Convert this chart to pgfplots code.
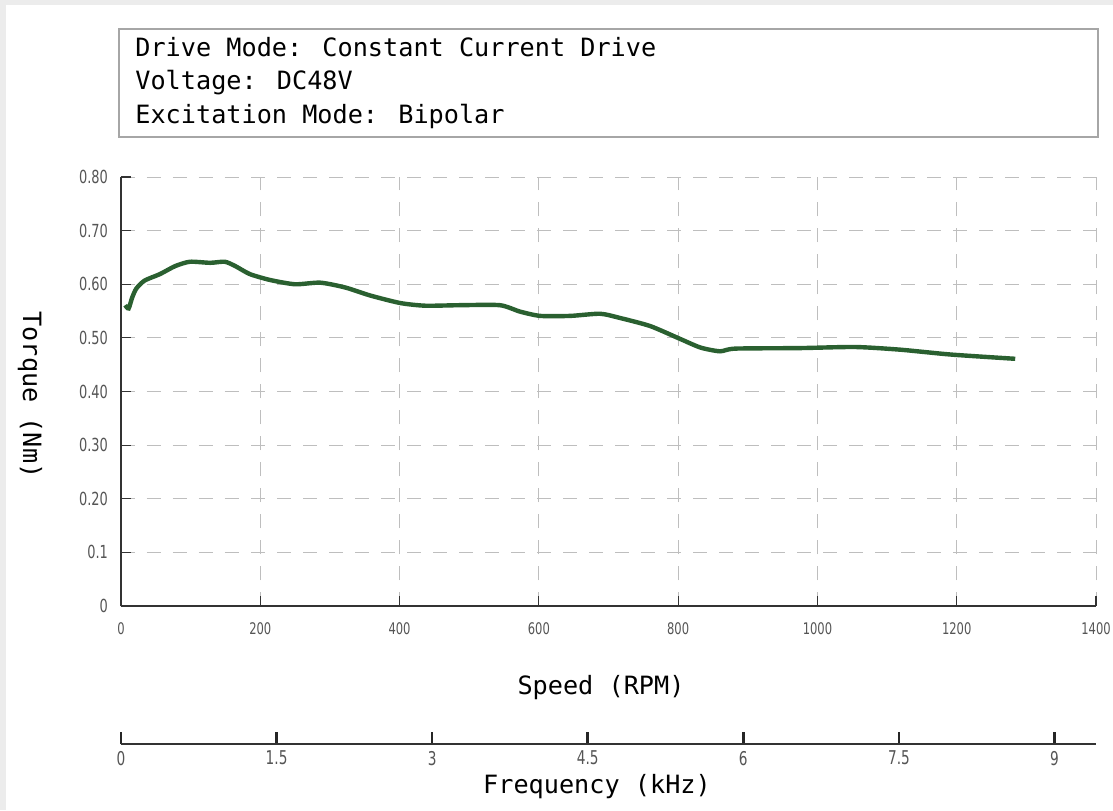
\documentclass[border=0pt]{standalone}
\usepackage{pgfplots}
\pgfplotsset{compat=1.18}
\usepackage{fontspec}
\setmainfont{DejaVu Sans Mono}
\newfontfamily\tickfont[FakeStretch=0.72]{DejaVu Sans}
\definecolor{curve}{RGB}{42,96,48}
\definecolor{gridc}{RGB}{190,190,190}
\definecolor{tickc}{RGB}{85,85,85}
\definecolor{bg}{RGB}{236,236,236}
\pgfplotstableread{
x y
6 0.561
11 0.555
16 0.575
22 0.592
34 0.607
56 0.619
78 0.634
99 0.642
128 0.640
149 0.642
164 0.634
185 0.619
214 0.608
250 0.600
286 0.603
322 0.594
358 0.579
401 0.565
437 0.560
487 0.561
544 0.561
573 0.549
602 0.541
645 0.541
688 0.545
717 0.537
760 0.522
803 0.498
832 0.482
860 0.475
882 0.480
975 0.481
1054 0.483
1119 0.478
1191 0.469
1284 0.461
}\torque
\begin{document}
\begin{tikzpicture}
\fill[bg] (-60.5pt,-102pt) rectangle (496pt,303pt);
\fill[white] (-57.5pt,-102pt) rectangle (496pt,300.5pt);
\useasboundingbox (-60.5pt,-102pt) rectangle (496pt,303pt);
\begin{axis}[
  at={(0pt,0pt)}, anchor=origin,
  scale only axis, width=487.5pt, height=214.5pt,
  xmin=0, xmax=1400, ymin=0, ymax=0.8,
  axis x line*=bottom, axis y line*=left,
  axis line style={black!80, line width=0.6pt, -},
  xtick={0,200,...,1400}, ytick={0,0.1,...,0.8},
  yticklabels={0,0.1,0.20,0.30,0.40,0.50,0.60,0.70,0.80},
  xticklabels={0,200,400,600,800,1000,1200,1400},
  tick align=inside, major tick length=5pt,
  tick style={black!80, line width=0.6pt},
  grid=major,
  major grid style={gridc, dash pattern=on 7pt off 6pt, line width=0.5pt},
  ticklabel style={font=\tickfont\fontsize{8}{9}\selectfont, text=tickc},
  yticklabel style={xshift=-3pt, font=\tickfont\fontsize{9}{10}\selectfont},
  xticklabel style={yshift=-5pt},
  clip=false,
]
\addplot[curve, line width=2.2pt, smooth, tension=0.4] table[x=x,y=y] {\torque};
\end{axis}
\begin{axis}[
  at={(0pt,-69pt)}, anchor=origin,
  scale only axis, width=487.5pt, height=10pt,
  xmin=0, xmax=9.4, ymin=0, ymax=1,
  axis x line=bottom, axis y line=none,
  axis line style={black!80, line width=1.3pt, -},
  xtick={0,1.5,3,4.5,6,7.5,9},
  xticklabels={0,1.5,3,4.5,6,7.5,9},
  tick align=inside, major tick length=6pt,
  tick style={black!85, line width=1.3pt},
  ticklabel style={font=\tickfont\fontsize{9.5}{10}\selectfont, text=tickc},
]
\end{axis}
\draw[gray!70, line width=0.8pt] (-1pt,288.5pt) rectangle (488.5pt,234.5pt);
\node[anchor=west, align=left, font=\fontsize{12.6}{16.75}\selectfont, inner sep=0pt] at (7pt,261.5pt)
  {Drive Mode: Constant Current Drive\\Voltage: DC48V\\Excitation Mode: Bipolar};
\node[rotate=-90, font=\fontsize{12.6}{15}\selectfont] at (-45.5pt,105.5pt) {Torque (Nm)};
\node[font=\fontsize{12.6}{15}\selectfont] at (240pt,-41pt) {Speed (RPM)};
\node[font=\fontsize{12.6}{15}\selectfont] at (238pt,-90.5pt) {Frequency (kHz)};
\end{tikzpicture}
\end{document}
